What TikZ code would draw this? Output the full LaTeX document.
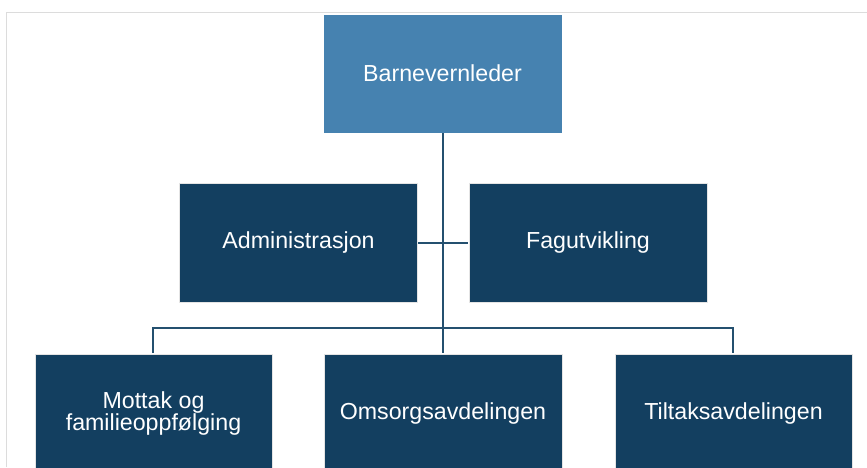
\documentclass[tikz,border=0pt]{standalone}
\usepackage{fontspec}
\setmainfont{Liberation Sans}
\definecolor{topblue}{HTML}{4682B0}
\definecolor{darkblue}{HTML}{133F60}
\definecolor{linkblue}{HTML}{24506F}
\definecolor{framegray}{HTML}{DCDCDC}
\definecolor{edgegray}{HTML}{E4E4E4}
\begin{document}
\begin{tikzpicture}[x=1pt,y=-1pt,
  orgbox/.style={draw=edgegray,line width=0.8pt,fill=darkblue,text=white,
    font=\fontsize{23.2}{20.5}\selectfont,align=center,inner sep=0pt},
  link/.style={draw=linkblue,line width=1.8pt}]
\useasboundingbox (0,0) rectangle (867,467);
\draw[framegray,line width=1pt] (6.5,467) -- (6.5,12.5) -- (867,12.5);
\begin{scope}
\clip (0,0) rectangle (867,467);
\path[orgbox,fill=topblue,draw=topblue] (324,15) rectangle (561,132);
\node[orgbox,draw=none,fill=none] (top) at (442.5,73.5) {Barnevernleder};
\path[orgbox] (179,183) rectangle (417,302);
\node[orgbox,draw=none,fill=none] (adm) at (298.5,242.5) {Administrasjon};
\path[orgbox] (469,183) rectangle (707,302);
\node[orgbox,draw=none,fill=none] (fag) at (588,242.5) {Fagutvikling};
\path[orgbox] (35,354) rectangle (272,473);
\node[orgbox,draw=none,fill=none] (mot) at (153.5,413.5) {Mottak og\\familieoppfølging};
\path[orgbox] (324,354) rectangle (562,473);
\node[orgbox,draw=none,fill=none] (oms) at (443,413.5) {Omsorgsavdelingen};
\path[orgbox] (615,354) rectangle (852,473);
\node[orgbox,draw=none,fill=none] (til) at (733.5,413.5) {Tiltaksavdelingen};
\end{scope}
\coordinate (tb) at (443,133);
\coordinate (ob) at (443,353);
\coordinate (al) at (418,243);
\coordinate (fr) at (468,243);
\coordinate (ml) at (153,353);
\coordinate (tr) at (733,353);
\coordinate (hl) at (153,328);
\coordinate (hr) at (733,328);
\draw[link] (tb) -- (ob);
\draw[link] (al) -- (fr);
\draw[link] (ml) -- (hl) -- (hr) -- (tr);
\end{tikzpicture}
\end{document}
